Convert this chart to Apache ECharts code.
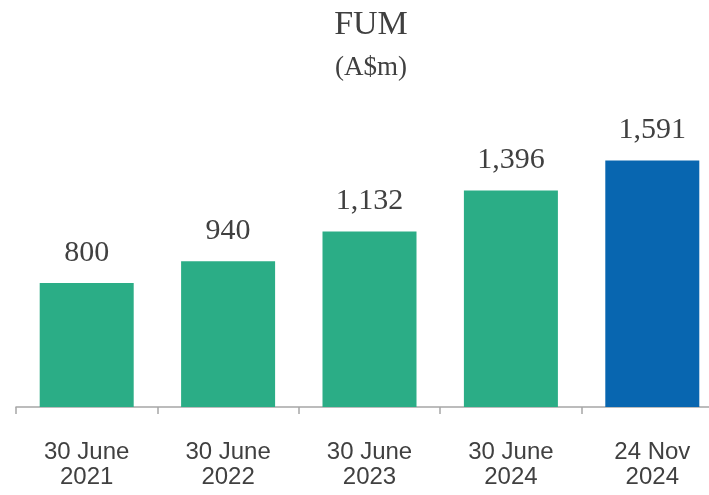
<!DOCTYPE html>
<html>
<head>
<meta charset="utf-8">
<script src="https://cdn.jsdelivr.net/npm/echarts@6/dist/echarts.min.js"></script>
<style>
  html, body { margin: 0; padding: 0; background: #fff; overflow: hidden; }
  #chart { width: 740px; height: 495px; }
</style>
</head>
<body>
<div id="chart"></div>
<script>
// FUM by reporting date (A$m)
const categories = ['30 June\n2021', '30 June\n2022', '30 June\n2023', '30 June\n2024', '24 Nov\n2024'];
const fumValues = [800, 940, 1132, 1396, 1591];
const barColors = ['#2bad86', '#2bad86', '#2bad86', '#2bad86', '#0866b0'];

const chart = echarts.init(document.getElementById('chart'));

chart.setOption({
    animation: false,
    title: [
        {
            text: 'FUM', left: 366, top: 3, textAlign: 'center',
            textStyle: { fontFamily: 'Liberation Serif', fontWeight: 'normal', fontSize: 34, color: '#404040' }
        },
        {
            text: '(A$m)', left: 366, top: 49, textAlign: 'center',
            textStyle: { fontFamily: 'Liberation Serif', fontWeight: 'normal', fontSize: 27, color: '#404040' }
        }
    ],
    // plot runs past the right edge of the window, as in the source
    grid: { left: 16, right: 17, top: 97, bottom: 88 },
    xAxis: {
        type: 'category',
        data: categories,
        axisLine: { lineStyle: { color: '#a6a6a6', width: 1.5 } },
        axisTick: { show: true, length: 7, lineStyle: { color: '#a6a6a6', width: 1.5 } },
        axisLabel: {
            margin: 33, color: '#404040', fontSize: 24, lineHeight: 25,
            fontFamily: '"Liberation Sans", Arial, sans-serif'
        }
    },
    yAxis: { type: 'value', min: 0, max: 2000, show: false },
    series: [{
        type: 'bar',
        barWidth: 94,
        data: fumValues.map((v, i) => ({ value: v, itemStyle: { color: barColors[i] } })),
        label: {
            show: true, position: 'top', distance: 15,
            fontFamily: 'Liberation Serif', fontSize: 30, lineHeight: 30, color: '#404040',
            formatter: p => p.value.toLocaleString('en-US')
        }
    }]
});
</script>
</body>
</html>
